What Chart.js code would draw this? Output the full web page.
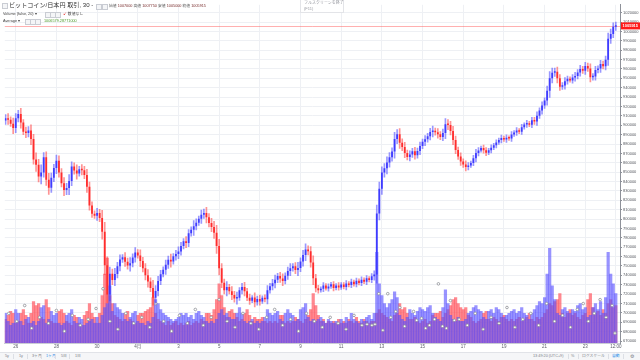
<!DOCTYPE html>
<html lang="ja">
<head>
<meta charset="UTF-8">
<title>ビットコイン/日本円</title>
<script src="https://cdn.jsdelivr.net/npm/chart.js@4"></script>
<style>
    html, body {
        margin: 0;
        padding: 0;
        width: 640px;
        height: 360px;
        overflow: hidden;
        background: #fff;
        font-family: "Liberation Sans", "Noto Sans CJK JP", sans-serif;
    }
    #wrap { position: absolute; left: 0; top: 0; width: 640px; height: 352px; }
    .t { position: absolute; white-space: nowrap; line-height: 1; }
    .box { position: absolute; width: 4px; height: 4px; border: 1px solid #c9ccd3; background: #f4f5f7; }
    #tip { position: absolute; left: 300px; top: 0; width: 42px; height: 12px; border: 1px solid #e3e4e8; border-top: none; background: #fff; }
    #bar { position: absolute; left: 0; top: 352px; width: 640px; height: 8px; background: #f5f6f8; border-top: 1px solid #e1e3e8; box-sizing: border-box; }
    #bar .t { font-size: 3.8px; color: #7b7e87; top: 2px; }
    .sep { position: absolute; top: 1px; width: 1px; height: 5px; background: #dcdfe5; }
</style>
</head>
<body>
<div id="wrap"><canvas id="chart"></canvas></div>

<div class="box" style="left:2px;top:3px"></div>
<div class="t" style="left:9px;top:2px;font-size:6.1px;color:#333">ビットコイン/日本円 取引, 30 -</div>
<div class="box" style="left:96px;top:4px"></div>
<div class="box" style="left:102px;top:4px"></div>
<div class="t" style="left:109px;top:5px;font-size:3.8px;color:#555">始値 <span style="color:#7a2e2e">1007000</span> 高値 <span style="color:#7a2e2e">1007750</span> 安値 <span style="color:#7a2e2e">1005000</span> 終値 <span style="color:#7a2e2e">1005915</span></div>

<div class="t" style="left:3px;top:13px;font-size:3.8px;color:#444">Volume (false, 20) ▾</div>
<div class="box" style="left:45px;top:12px"></div>
<div class="box" style="left:50px;top:12px"></div>
<div class="box" style="left:55px;top:12px"></div>
<div class="t" style="left:63px;top:13px;font-size:3.8px;color:#444"><span style="color:#e53935">↙</span> 数値なし</div>

<div class="t" style="left:3px;top:20px;font-size:3.8px;color:#444">Average ▾</div>
<div class="box" style="left:25px;top:19px"></div>
<div class="box" style="left:30px;top:19px"></div>
<div class="box" style="left:35px;top:19px"></div>
<div class="t" style="left:44px;top:20px;font-size:3.8px;color:#4c9a2a">1006579.28771000</div>

<div id="tip">
    <div class="t" style="left:3px;top:1px;font-size:4px;color:#9a9ca3">フルスクリーンを終了</div>
    <div class="t" style="left:3px;top:7px;font-size:4px;color:#9a9ca3">(F11)</div>
</div>

<div id="bar">
    <span class="t" style="left:5px">5y</span><div class="sep" style="left:13px"></div>
    <span class="t" style="left:19px">1y</span><div class="sep" style="left:27px"></div>
    <span class="t" style="left:32px">3ヶ月</span><div class="sep" style="left:41px"></div>
    <span class="t" style="left:46px;color:#2f8fe8">1ヶ月</span><div class="sep" style="left:55px"></div>
    <span class="t" style="left:61px">5日</span><div class="sep" style="left:69px"></div>
    <span class="t" style="left:75px">1日</span>
    <span class="t" style="left:533px">13:49:20 (UTC+9)</span><div class="sep" style="left:568px"></div>
    <span class="t" style="left:571px">%</span><div class="sep" style="left:578px"></div>
    <span class="t" style="left:582px">ログスケール</span><div class="sep" style="left:608px"></div>
    <span class="t" style="left:612px;color:#2f8fe8">自動</span><div class="sep" style="left:623px"></div>
    <span class="t" style="left:630px;font-size:5px;top:1px">⚙</span>
</div>

<script>
// 3-hour candles, day 0 = Mar 26 00:00, first candle Mar 25 12:00
const startDay = -0.5;
const stepDay = 0.125;
const firstOpen = 905;

// closing prices, thousand JPY
const closes = [
    907.5, 906, 901.7, 897, 907.5, 912, 903, 893, 891.7, 894.5,
    885.4, 863.6, 857.8, 845.5, 849.7, 865.8, 841.8, 833.4, 844, 854.4,
    862.3, 849.7, 838.3, 831, 833.1, 840.5, 856, 851.8, 848.6, 853.2,
    852.1, 847, 834.4, 814.4, 805.8, 803.6, 806.5, 801.2, 786.6, 750.8,
    719.7, 741.7, 735, 741.4, 749.8, 756.9, 759.2, 754.4, 750.5, 752.9,
    759, 764.5, 761.3, 755.3, 747.6, 740.1, 733.4, 726.6, 716.2, 723.2,
    734, 741.3, 746.1, 751.4, 756.6, 754.8, 760.3, 762.8, 765.5, 771.3,
    776.3, 774.5, 784.9, 788.7, 792.4, 796.2, 800.3, 804.6, 806.6, 801.9,
    795.7, 791.6, 785.3, 771.3, 747.6, 732, 724.1, 727.5, 723.1, 719.1,
    715.3, 716.2, 724.1, 727.5, 723.1, 716.1, 713, 716.4, 711.3, 714.9,
    712.2, 716.2, 714.6, 724.1, 728.5, 731.7, 735.3, 739.2, 736.6, 734,
    739.6, 744.7, 747.5, 749.6, 745.8, 747.9, 754.8, 761.6, 767.5, 765.7,
    753.7, 737, 726.3, 724.1, 725.7, 729.2, 726.1, 728, 730.5, 726.4,
    729.3, 727.1, 730.2, 727.6, 731.4, 729.8, 733.1, 730.6, 734.2, 731.9,
    735.4, 733.2, 736.8, 735.1, 739, 740.8, 806, 832.3, 849.7, 854.2,
    860.4, 865.8, 871.9, 885.4, 890.4, 881.4, 876.8, 870.5, 866.1, 868.8,
    872.4, 867.9, 872.6, 878, 882.3, 885, 888.4, 892.7, 894, 892.5,
    890.3, 887.6, 891.8, 901, 900.3, 893.8, 884.4, 873.7, 866.7, 861.3,
    858.1, 855.4, 857.1, 859.9, 864.9, 870.3, 873.2, 875.8, 873.3, 870.7,
    873.4, 876.1, 878.8, 881.5, 884.3, 886.5, 884.8, 886.8, 885.9, 890.2,
    892.3, 894.4, 893.1, 897.9, 900.7, 902.2, 900.5, 905.4, 903.9, 910.2,
    915.7, 921, 926.3, 936.7, 950.2, 956, 957, 950, 941.1, 942.4,
    946.9, 949.5, 947.8, 950.9, 952.5, 956.3, 959.9, 958.2, 963.2, 960.5,
    951.1, 952, 958.8, 960.4, 965.3, 963, 969.7, 992.2, 997.4, 1005.1,
    1005.915
];

// wick reach beyond the body, thousand JPY
const wicks = [
    4, 5, 3, 6, 5, 4, 6, 3, 5, 4,
    6, 5, 7, 6, 8, 5, 6, 7, 5, 4,
    6, 5, 4, 6, 5, 7, 5, 4, 6, 3,
    5, 4, 6, 5, 4, 3, 5, 4, 8, 10,
    9, 7, 5, 6, 4, 5, 3, 5, 4, 6,
    4, 5, 3, 6, 4, 5, 6, 4, 8, 6,
    5, 4, 3, 5, 4, 6, 3, 4, 5, 4,
    3, 5, 4, 3, 6, 4, 3, 5, 4, 6,
    4, 5, 6, 8, 7, 5, 4, 6, 3, 5,
    4, 6, 3, 4, 5, 3, 4, 2, 5, 3,
    4, 2, 3, 5, 3, 4, 5, 3, 4, 5,
    3, 4, 5, 3, 4, 6, 4, 5, 6, 4,
    5, 7, 4, 3, 2, 3, 2, 3, 2, 3,
    2, 3, 2, 2, 3, 2, 3, 2, 3, 2,
    3, 2, 3, 2, 3, 4, 9, 7, 6, 5,
    6, 5, 4, 7, 5, 6, 4, 5, 3, 4,
    3, 4, 3, 4, 3, 4, 3, 4, 5, 3,
    4, 3, 4, 6, 5, 4, 5, 4, 3, 4,
    3, 4, 3, 2, 3, 4, 3, 2, 3, 3,
    2, 3, 2, 3, 2, 3, 2, 3, 2, 3,
    2, 3, 2, 3, 2, 3, 2, 3, 3, 4,
    3, 4, 3, 5, 7, 5, 4, 5, 4, 3,
    4, 3, 2, 3, 4, 3, 4, 3, 4, 3,
    5, 3, 4, 3, 4, 3, 4, 6, 5, 4,
    4
];

// volume on up / down candles
const volUp = [
    30, 22, 18, 20, 34, 30, 22, 18, 24, 26,
    20, 22, 18, 22, 36, 38, 20, 24, 32, 28,
    30, 20, 18, 20, 28, 30, 34, 22, 20, 26,
    24, 18, 20, 22, 24, 20, 26, 20, 28, 36,
    40, 58, 32, 40, 36, 34, 30, 24, 22, 26,
    30, 32, 22, 20, 20, 18, 22, 20, 26, 44,
    40, 34, 30, 28, 26, 24, 22, 24, 26, 30,
    28, 30, 26, 28, 24, 30, 32, 28, 26, 22,
    20, 22, 20, 24, 30, 34, 28, 30, 26, 24,
    24, 30, 36, 30, 22, 20, 22, 24, 20, 22,
    20, 22, 26, 34, 30, 28, 30, 32, 24, 22,
    30, 34, 30, 28, 22, 24, 34, 36, 40, 26,
    22, 24, 22, 24, 26, 22, 20, 24, 22, 20,
    22, 20, 24, 20, 26, 22, 30, 24, 22, 20,
    24, 22, 26, 28, 24, 30, 92, 60, 48, 40,
    36, 40, 44, 52, 46, 28, 24, 22, 26, 34,
    30, 28, 32, 36, 34, 32, 36, 38, 30, 26,
    24, 22, 36, 54, 40, 28, 24, 22, 26, 22,
    22, 24, 30, 32, 36, 38, 34, 32, 26, 24,
    32, 34, 30, 36, 34, 30, 26, 28, 30, 32,
    34, 30, 32, 36, 30, 28, 24, 30, 34, 38,
    42, 40, 46, 70, 96, 58, 44, 30, 28, 34,
    36, 32, 30, 34, 32, 38, 40, 34, 36, 26,
    28, 36, 40, 34, 42, 30, 46, 92, 70, 60,
    50
];
const volDown = [
    24, 28, 32, 30, 20, 22, 30, 34, 28, 20,
    30, 42, 38, 40, 26, 24, 44, 36, 22, 20,
    20, 32, 34, 30, 22, 20, 18, 28, 26, 20,
    18, 28, 32, 40, 30, 26, 20, 30, 48, 70,
    86, 48, 40, 28, 26, 24, 22, 30, 32, 24,
    22, 20, 28, 30, 30, 32, 34, 36, 46, 30,
    24, 22, 20, 18, 22, 18, 20, 22, 18, 20,
    18, 20, 22, 18, 20, 22, 20, 24, 22, 30,
    30, 28, 34, 44, 60, 48, 36, 26, 32, 34,
    30, 26, 22, 24, 30, 34, 28, 22, 26, 24,
    24, 26, 22, 20, 22, 20, 22, 20, 28, 28,
    20, 22, 20, 22, 26, 24, 22, 20, 24, 28,
    34, 50, 38, 28, 22, 24, 20, 22, 20, 22,
    20, 24, 20, 22, 20, 24, 22, 20, 26, 22,
    20, 24, 22, 20, 22, 22, 30, 34, 30, 28,
    26, 24, 22, 28, 30, 40, 34, 36, 30, 24,
    24, 26, 22, 20, 22, 24, 20, 22, 28, 30,
    30, 32, 26, 30, 34, 38, 44, 46, 40, 36,
    34, 36, 28, 26, 22, 20, 22, 24, 30, 32,
    24, 22, 26, 24, 22, 26, 28, 24, 22, 24,
    22, 24, 26, 22, 24, 26, 30, 24, 22, 26,
    24, 26, 30, 34, 40, 38, 42, 44, 50, 30,
    26, 30, 34, 28, 30, 26, 24, 28, 30, 44,
    50, 36, 30, 32, 28, 34, 30, 40, 44, 36,
    38
];

// "Average" markers over the volume
const markDays = [
    -0.34, 0.05, 0.44, 0.78, 1.17, 1.61, 2.0, 2.39, 2.78, 3.17,
    3.56, 3.95, 4.29, 4.63, 5.02, 5.41, 5.8, 6.2, 6.59, 6.88,
    7.27, 7.66, 8.05, 8.44, 8.83, 9.22, 9.61, 10.0, 10.39, 10.78,
    11.17, 11.56, 11.95, 12.34, 12.73, 13.12, 13.51, 13.9, 14.29, 14.68,
    15.07, 15.46, 15.85, 16.24, 16.63, 17.02, 17.27, 17.51, 17.66, 17.85,
    18.05, 18.29, 18.44, 18.68, 18.88, 19.12, 19.56, 19.71, 19.95, 20.15,
    20.34, 20.59, 20.78, 20.98, 21.17, 21.37, 21.56, 21.8, 22.2, 22.59,
    22.98, 23.37, 23.76, 24.15, 24.54, 24.93, 25.32, 25.71, 26.1, 26.49,
    26.88, 27.27, 27.61, 27.9, 28.15, 28.44, 28.73, 29.02, 29.32, 29.46
];
const markVols = [
    30, 22, 38, 15, 26, 20, 33, 12, 28, 18,
    24, 35, 55, 22, 14, 30, 20, 26, 16, 40,
    22, 12, 28, 20, 34, 18, 26, 44, 22, 16,
    30, 20, 14, 26, 34, 18, 24, 12, 30, 22,
    16, 26, 20, 14, 28, 18, 19, 18, 19, 50,
    13, 50, 26, 32, 36, 17, 32, 23, 25, 15,
    18, 24, 60, 17, 15, 43, 23, 24, 18, 30,
    14, 26, 20, 36, 16, 24, 30, 18, 40, 22,
    28, 16, 34, 40, 22, 30, 44, 26, 38, 10
];

const dayTicks = [0, 2, 4, 6, 8, 10, 12, 14, 16, 18, 20, 22, 24, 26, 28, 29.5];
const dayLabels = ['26', '28', '30', '4月', '3', '5', '7', '9', '11', '13', '15', '17', '19', '21', '23', '12:00'];
const priceTicks = [670, 680, 690, 700, 710, 720, 730, 740, 750, 760, 770, 780, 790, 800, 810, 820, 830, 840,
    850, 860, 870, 880, 890, 900, 910, 920, 930, 940, 950, 960, 970, 980, 990, 1000, 1010, 1020];
const lastPrice = 1005.915;

const UP = '#3f3cff';
const DOWN = '#ff2d2d';

const xs = closes.map((c, i) => startDay + i * stepDay);
const opens = closes.map((c, i) => i ? closes[i - 1] : firstOpen);
const bodies = closes.map((c, i) => ({ x: xs[i], y: [opens[i], c] }));
const shadows = closes.map((c, i) => ({
    x: xs[i],
    y: [Math.min(opens[i], c) - wicks[i], Math.max(opens[i], c) + wicks[i]]
}));
const bodyColors = closes.map((c, i) => c >= opens[i] ? UP : DOWN);
const wickColors = closes.map((c, i) => c >= opens[i] ? 'rgba(70,66,255,0.55)' : 'rgba(255,60,60,0.55)');

const lastLine = {
    id: 'lastLine',
    beforeDatasetsDraw(chart) {
        const { ctx, chartArea, scales } = chart;
        const y = Math.round(scales.y.getPixelForValue(lastPrice)) + 0.5;
        ctx.save();
        ctx.strokeStyle = 'rgba(255,80,80,0.45)';
        ctx.lineWidth = 1;
        ctx.beginPath();
        ctx.moveTo(chartArea.left, y);
        ctx.lineTo(chartArea.right, y);
        ctx.stroke();
        ctx.restore();
    },
    afterDraw(chart) {
        const { ctx, chartArea, scales } = chart;
        const y = scales.y.getPixelForValue(lastPrice);
        ctx.save();
        ctx.fillStyle = '#ff1a1a';
        ctx.fillRect(chartArea.right + 1, y - 3.5, 19, 7);
        ctx.fillStyle = '#fff';
        ctx.font = 'bold 4px "Liberation Sans", sans-serif';
        ctx.textBaseline = 'middle';
        ctx.fillText(String(Math.round(lastPrice * 1000)), chartArea.right + 2.5, y + 0.3);
        ctx.restore();
    }
};

new Chart(document.getElementById('chart'), {
    type: 'bar',
    data: {
        datasets: [
            {
                data: bodies,
                yAxisID: 'y',
                backgroundColor: bodyColors,
                barPercentage: 0.7,
                categoryPercentage: 1,
                minBarLength: 1.5,
                grouped: false,
                order: 0
            },
            {
                data: shadows,
                yAxisID: 'y',
                backgroundColor: wickColors,
                barThickness: 1,
                grouped: false,
                order: 1
            },
            {
                type: 'line',
                data: markDays.map((d, i) => ({ x: d, y: markVols[i] })),
                yAxisID: 'vol',
                showLine: false,
                pointRadius: 1.3,
                pointBackgroundColor: '#ffffff',
                pointBorderColor: '#8d8f96',
                pointBorderWidth: 0.8,
                order: 2
            },
            {
                data: volUp.map((v, i) => ({ x: xs[i], y: v })),
                yAxisID: 'vol',
                backgroundColor: 'rgba(88,80,255,0.62)',
                barPercentage: 1,
                categoryPercentage: 1,
                grouped: false,
                order: 3
            },
            {
                data: volDown.map((v, i) => ({ x: xs[i], y: v })),
                yAxisID: 'vol',
                backgroundColor: 'rgba(255,80,90,0.68)',
                barPercentage: 1,
                categoryPercentage: 1,
                grouped: false,
                order: 4
            }
        ]
    },
    options: {
        responsive: true,
        maintainAspectRatio: false,
        animation: false,
        layout: { padding: 0 },
        plugins: { legend: { display: false }, tooltip: { enabled: false } },
        scales: {
            x: {
                type: 'linear',
                min: -0.537,
                max: 29.707,
                offset: false,
                afterBuildTicks: s => { s.ticks = dayTicks.map(v => ({ value: v })); },
                afterFit: s => { s.height = 9; },
                ticks: {
                    autoSkip: false,
                    maxRotation: 0,
                    padding: 1,
                    color: '#5d606b',
                    font: { size: 4.5, family: '"Liberation Sans", "Noto Sans CJK JP", sans-serif' },
                    callback: (v, i) => dayLabels[i]
                },
                grid: { color: '#eef0f4', offset: false, drawTicks: false },
                border: { color: '#c9ccd4' }
            },
            y: {
                position: 'right',
                min: 667.9,
                max: 1028.4,
                afterBuildTicks: s => { s.ticks = priceTicks.map(v => ({ value: v })); },
                afterFit: s => { s.width = 20; },
                ticks: {
                    padding: 1,
                    color: '#55585f',
                    font: { size: 4, family: '"Liberation Sans", sans-serif' },
                    callback: v => String(Math.round(v * 1000))
                },
                grid: { color: '#eef0f4', tickLength: 2, tickColor: '#8e9199' },
                border: { color: '#8e9199' }
            },
            vol: {
                display: false,
                min: 0,
                max: 343
            }
        }
    },
    plugins: [lastLine]
});
</script>
</body>
</html>
